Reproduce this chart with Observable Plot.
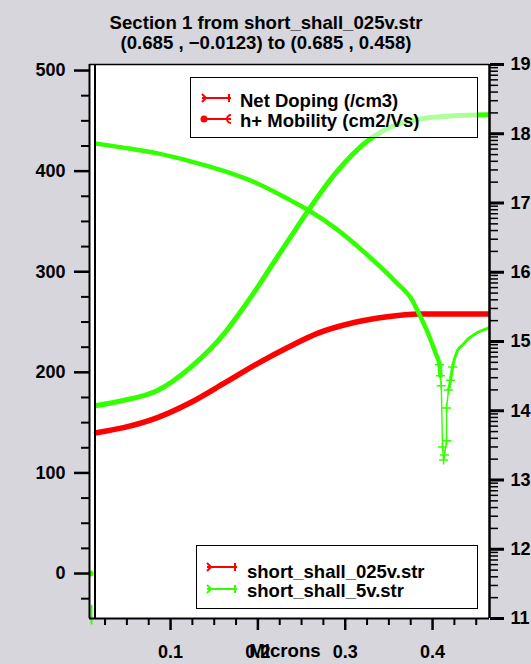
<!DOCTYPE html>
<html>
<head>
<meta charset="utf-8">
<script src="https://cdn.jsdelivr.net/npm/d3@7"></script>
<script src="https://cdn.jsdelivr.net/npm/@observablehq/plot@0.6"></script>
<style>
  body { margin: 0; background: #d6d6dc; }
  #wrap { position: relative; width: 531px; height: 664px; background: #d6d6dc; overflow: hidden;
          font-family: "Liberation Sans", Arial, sans-serif; font-weight: bold; color: #000; }
  #wrap svg.plot { position: absolute; left: 0; top: 0; }
  .t { position: absolute; white-space: nowrap; font-size: 18.6px; line-height: 1; transform: translate(-50%, -50%); }
  .leg { position: absolute; box-sizing: border-box; border: 1.5px solid #000; background: rgba(255,255,255,0.6); }
  .leg .row { position: absolute; white-space: nowrap; font-size: 18.5px; line-height: 1; transform: translateY(-50%); }
  .leg svg { position: absolute; left: 0; top: 0; overflow: visible; }
</style>
</head>
<body>
<div id="wrap"></div>
<script>
// ---------- data ----------
// h+ mobility (cm2/Vs), short_shall_5v.str (green)
const micronsMob5 = [0.0152, 0.046, 0.085, 0.123, 0.161, 0.180, 0.200, 0.218, 0.237, 0.257, 0.289, 0.327, 0.358, 0.395, 0.423, 0.463];
const mobility5   = [167, 172, 182, 205, 238, 260, 285, 309, 334, 360, 398, 431, 446, 453, 455, 456];

// h+ mobility (cm2/Vs), short_shall_025v.str (red)
const micronsMob025 = [0.0152, 0.046, 0.085, 0.123, 0.161, 0.200, 0.237, 0.269, 0.308, 0.346, 0.384, 0.423, 0.463];
const mobility025   = [140, 145, 155, 170, 189, 209, 226, 239, 249, 255, 258, 258, 258];

// Net doping (/cm3), short_shall_5v.str (green, drawn on the log axis at right)
const micronsDop = [0.0152, 0.046, 0.085, 0.123, 0.161, 0.200, 0.237, 0.257, 0.289, 0.327, 0.358, 0.377, 0.384, 0.395, 0.4034,
                    0.408, 0.409, 0.410, 0.4114, 0.4126, 0.4137, 0.416, 0.416, 0.4183, 0.4206, 0.4229, 0.4286, 0.4343, 0.4412, 0.4515, 0.463];
const netDoping5 = [7.2e17, 6.3e17, 5.2e17, 4.0e17, 2.9e17, 1.9e17, 1.1e17, 8.0e16, 4.3e16, 1.7e16, 7.2e15, 3.9e15, 2.6e15, 1.3e15, 6.8e14,
                    4.6e14, 3.2e14, 2.3e14, 3.0e13, 1.95e13, 2.3e13, 3.7e13, 1.1e14, 2.0e14, 2.75e14, 4.3e14, 7.4e14, 8.9e14, 1.1e15, 1.35e15, 1.55e15];

// small stray 5v marks at the left edge
const strayMicrons5 = [0.0085];
const strayValue5 = [0];
const strayDropMicrons5 = [0.0095, 0.0095];
const strayDropValue5 = [-32, -50];

// tick values
const xMajor = [0.1, 0.2, 0.3, 0.4];
const xMinor = [0.025, 0.05, 0.075, 0.125, 0.15, 0.175, 0.225, 0.25, 0.275, 0.325, 0.35, 0.375, 0.425, 0.45];
const yMajor = [0, 100, 200, 300, 400, 500];
const yMinor = [-25, 25, 50, 75, 125, 150, 175, 225, 250, 275, 325, 350, 375, 425, 450, 475];
const logMajor = [11, 12, 13, 14, 15, 16, 17, 18, 19];
const logMinorMant = [2, 3, 4, 5, 6, 7, 8, 9];

const titleLines = ["Section 1 from short_shall_025v.str", "(0.685 , \u22120.0123) to (0.685 , 0.458)"];
const xLabel = "Microns";
const quantityNames = ["Net Doping (/cm3)", "h+ Mobility (cm2/Vs)"];
const fileNames = ["short_shall_025v.str", "short_shall_5v.str"];

// ---------- scales ----------
const RED = "#ff0000", GREEN = "#33ff00";
const xDomain = [0.0072, 0.4652];
const yDomain = [-44.7, 506];
const logDomain = [11, 19];
const eToV = e => yDomain[0] + (e - logDomain[0]) * (yDomain[1] - yDomain[0]) / (logDomain[1] - logDomain[0]);
const vToE = v => logDomain[0] + (v - yDomain[0]) * (logDomain[1] - logDomain[0]) / (yDomain[1] - yDomain[0]);

const mob5 = micronsMob5.map((x, i) => ({x, y: mobility5[i]}));
const mob025 = micronsMob025.map((x, i) => ({x, y: mobility025[i]}));
const dop5 = micronsDop.map((x, i) => ({x, y: eToV(Math.log10(netDoping5[i]))}));
const dopLeft = dop5.filter(d => d.x <= 0.409);
const dopRight = dop5.filter(d => d.x >= 0.4183);
const dopDip = dop5.filter(d => d.x >= 0.405 && d.x <= 0.425);
const stray = strayMicrons5.map((x, i) => ({x, y: strayValue5[i]}));
const strayDrop = strayDropMicrons5.map((x, i) => ({x, y: strayDropValue5[i]}));

const rightMajorV = logMajor.map(eToV);
const rightMinorV = [];
for (let n = logDomain[0]; n < logDomain[1]; n++) for (const m of logMinorMant) rightMinorV.push(eToV(n + Math.log10(m)));

const chart = Plot.plot({
  width: 531, height: 664,
  marginLeft: 89, marginRight: 42, marginTop: 64, marginBottom: 46,
  x: {domain: xDomain, label: null},
  y: {domain: yDomain, label: null},
  style: {background: "transparent", fontFamily: "'Liberation Sans', Arial, sans-serif", fontWeight: "bold", fontSize: "18px", color: "#000", overflow: "visible"},
  marks: [
    Plot.frame({fill: "white", stroke: null}),
    // curves
    Plot.line(mob025, {x: "x", y: "y", stroke: RED, strokeWidth: 5.5, curve: "monotone-x", clip: true}),
    Plot.line(dopLeft, {x: "x", y: "y", stroke: GREEN, strokeWidth: 4.5, curve: "monotone-x", clip: true}),
    Plot.line(dopRight, {x: "x", y: "y", stroke: GREEN, strokeWidth: 3, curve: "monotone-x", clip: true}),
    Plot.line(dop5, {x: "x", y: "y", stroke: GREEN, strokeWidth: 1.4, clip: true}),
    Plot.dot(dopDip, {x: "x", y: "y", stroke: GREEN, symbol: "plus", r: 3, strokeWidth: 1.5, clip: true}),
    Plot.line(mob5, {x: "x", y: "y", stroke: GREEN, strokeWidth: 5, curve: "monotone-x", clip: true}),
    Plot.line(strayDrop, {x: "x", y: "y", stroke: GREEN, strokeWidth: 2}),
    Plot.dot(stray, {x: "x", y: "y", fill: GREEN, r: 3}),
    // frame lines
    Plot.ruleX([xDomain[0]], {stroke: "#000", strokeWidth: 2}),
    Plot.ruleX([xDomain[0]], {stroke: "#000", strokeWidth: 2, dx: 5.5}),
    Plot.ruleX([xDomain[1]], {stroke: "#000", strokeWidth: 2.5}),
    Plot.ruleY([yDomain[0]], {stroke: "#000", strokeWidth: 2}),
    Plot.ruleY([yDomain[1]], {stroke: "#000", strokeWidth: 1.5}),
    // x axis
    Plot.axisX({ticks: xMajor, tickSize: 12, tickPadding: 15, strokeWidth: 2.5, tickFormat: d => d.toFixed(1), fontSize: 18, label: null}),
    Plot.axisX({ticks: xMinor, tickSize: 7, strokeWidth: 2, tickFormat: () => "", label: null}),
    // left axis
    Plot.axisY({ticks: yMajor, anchor: "left", tickSize: 15, tickPadding: 9, strokeWidth: 2.5, tickFormat: d => String(d), fontSize: 18, label: null}),
    Plot.axisY({ticks: yMinor, anchor: "left", tickSize: 8, strokeWidth: 2, tickFormat: () => "", label: null}),
    // right (log) axis
    Plot.axisY({ticks: rightMajorV, anchor: "right", tickSize: 14, tickPadding: 7, strokeWidth: 3, tickFormat: v => String(Math.round(vToE(v))), fontSize: 18, label: null}),
    Plot.axisY({ticks: rightMinorV, anchor: "right", tickSize: 8, strokeWidth: 1.5, tickFormat: () => "", label: null})
  ]
});
chart.classList.add("plot");

const wrap = document.getElementById("wrap");
wrap.appendChild(chart);

function addText(txt, x, y) {
  const d = document.createElement("div");
  d.className = "t"; d.textContent = txt;
  d.style.left = x + "px"; d.style.top = y + "px";
  wrap.appendChild(d);
}
addText(titleLines[0], 266, 22.5);
addText(titleLines[1], 266, 43);
addText(xLabel, 285, 651);

// legend helpers (layout only)
function marker(kind, color, x1, x2, y) {
  let s = `<line x1="${x1}" x2="${x2}" y1="${y}" y2="${y}" stroke="${color}" stroke-width="2"/>`;
  if (kind === "arrow") {
    s += `<path d="M${x1},${y-4} L${x1+4},${y} L${x1},${y+4}" fill="none" stroke="${color}" stroke-width="2"/>`;
    s += `<line x1="${x2-2}" x2="${x2-2}" y1="${y-4}" y2="${y+4}" stroke="${color}" stroke-width="2"/>`;
  } else {
    s += `<circle cx="${x1+2}" cy="${y}" r="3.5" fill="${color}"/>`;
    s += `<path d="M${x2},${y-4} A4,4 0 0 0 ${x2},${y+4}" fill="none" stroke="${color}" stroke-width="2"/>`;
  }
  return s;
}
function legend(left, top, w, h, rows) {
  const box = document.createElement("div");
  box.className = "leg";
  box.style.left = left + "px"; box.style.top = top + "px";
  box.style.width = w + "px"; box.style.height = h + "px";
  let svg = `<svg width="${w}" height="${h}">`;
  for (const r of rows) svg += marker(r.kind, r.color, r.mx1, r.mx2, r.my);
  svg += `</svg>`;
  box.innerHTML = svg;
  for (const r of rows) {
    const t = document.createElement("div");
    t.className = "row"; t.textContent = r.text;
    t.style.left = r.tx + "px"; t.style.top = r.ty + "px";
    box.appendChild(t);
  }
  wrap.appendChild(box);
}
legend(190, 77, 288, 61, [
  {kind: "arrow", color: RED, mx1: 11, mx2: 40, my: 20, text: quantityNames[0], tx: 49, ty: 23},
  {kind: "dot", color: RED, mx1: 11, mx2: 40, my: 41, text: quantityNames[1], tx: 49, ty: 43}
]);
legend(196, 545, 282, 64, [
  {kind: "arrow", color: RED, mx1: 10, mx2: 40, my: 21, text: fileNames[0], tx: 50, ty: 26},
  {kind: "arrow", color: GREEN, mx1: 10, mx2: 40, my: 43, text: fileNames[1], tx: 50, ty: 45}
]);
</script>
</body>
</html>
